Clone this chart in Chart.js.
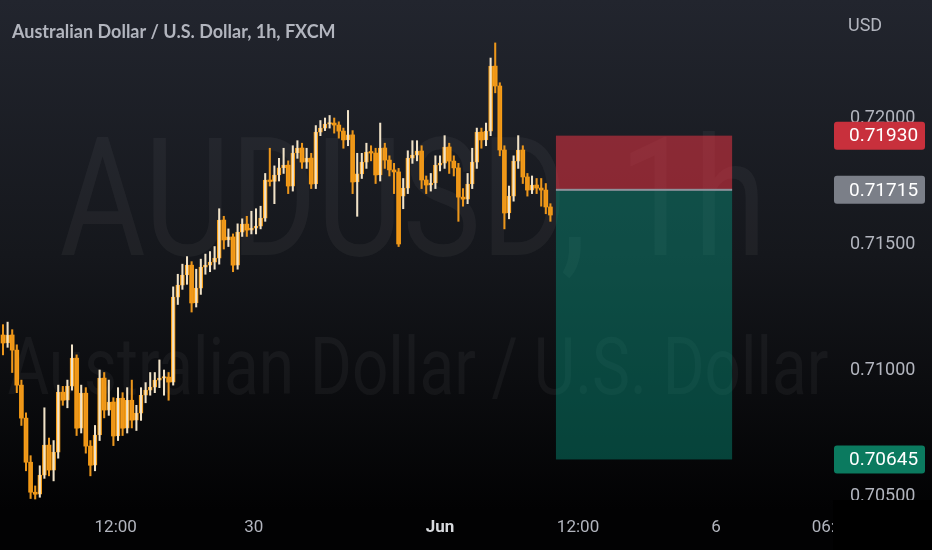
<!DOCTYPE html>
<html><head><meta charset="utf-8">
<script src="https://cdn.jsdelivr.net/npm/chart.js@4.4.1/dist/chart.umd.min.js"></script>
<style>html,body{margin:0;padding:0;background:#000;overflow:hidden}#wrap{width:932px;height:550px;position:relative}canvas{display:block}</style>
</head><body><div id="wrap"><canvas id="c" width="932" height="550"></canvas></div>
<script>
const symbolTitle = "Australian Dollar / U.S. Dollar, 1h, FXCM";
const watermarkMain = "AUDUSD, 1h";
const watermarkSub = "Australian Dollar / U.S. Dollar";
const currencyLabel = "USD";

const opens = [
 0.71139,0.71107,0.71139,0.71079,0.70940,0.70809,0.70634,0.70515,0.70507,0.70583,
 0.70702,0.70603,0.70674,0.70912,0.70880,0.70936,0.71047,0.70769,0.70908,0.70698,
 0.70622,0.70742,0.70968,0.70841,0.70873,0.70738,0.70888,0.70769,0.70880,0.70801,
 0.70829,0.70900,0.70920,0.70932,0.70960,0.70968,0.70972,0.70952,0.71289,0.71337,
 0.71377,0.71416,0.71266,0.71325,0.71408,0.71416,0.71428,0.71444,0.71595,0.71516,
 0.71528,0.71416,0.71547,0.71579,0.71555,0.71563,0.71571,0.71603,0.71754,0.71748,
 0.71774,0.71802,0.71813,0.71730,0.71861,0.71881,0.71825,0.71841,0.71738,0.71944,
 0.71960,0.71976,0.71980,0.71972,0.71948,0.71913,0.71933,0.71746,0.71778,0.71825,
 0.71865,0.71861,0.71774,0.71881,0.71833,0.71794,0.71786,0.71690,0.71722,0.71841,
 0.71853,0.71869,0.71754,0.71734,0.71742,0.71813,0.71821,0.71885,0.71829,0.71802,
 0.71686,0.71678,0.71738,0.71825,0.71944,0.71913,0.71948,0.72206,0.72127,0.71873,
 0.71623,0.71690,0.71829,0.71873,0.71766,0.71714,0.71734,0.71722,0.71714,0.71647];
const highs = [
 0.71180,0.71190,0.71160,0.71100,0.70960,0.70830,0.70660,0.70540,0.70620,0.70850,
 0.70730,0.70720,0.70940,0.70935,0.70960,0.71100,0.71060,0.70940,0.70930,0.70720,
 0.70780,0.71000,0.70990,0.70960,0.70890,0.70930,0.70910,0.70930,0.70960,0.70860,
 0.70930,0.70950,0.70990,0.70990,0.71040,0.71000,0.70990,0.71330,0.71380,0.71420,
 0.71450,0.71430,0.71400,0.71440,0.71460,0.71470,0.71490,0.71640,0.71610,0.71560,
 0.71540,0.71580,0.71600,0.71610,0.71630,0.71640,0.71650,0.71780,0.71880,0.71810,
 0.71840,0.71880,0.71830,0.71890,0.71910,0.71900,0.71880,0.71860,0.71970,0.71990,
 0.72000,0.72010,0.72000,0.71985,0.71960,0.72030,0.71950,0.71860,0.71860,0.71900,
 0.71890,0.71880,0.71980,0.71900,0.71850,0.71820,0.71800,0.71760,0.71870,0.71910,
 0.71910,0.71890,0.71770,0.71780,0.71850,0.71850,0.71930,0.71900,0.71850,0.71820,
 0.71720,0.71780,0.71880,0.71960,0.71960,0.71980,0.72238,0.72298,0.72140,0.71890,
 0.71730,0.71850,0.71930,0.71890,0.71780,0.71770,0.71760,0.71760,0.71740,0.71660];
const lows = [
 0.71060,0.71090,0.70990,0.70910,0.70780,0.70600,0.70490,0.70488,0.70495,0.70570,
 0.70580,0.70560,0.70650,0.70860,0.70850,0.70920,0.70740,0.70750,0.70670,0.70580,
 0.70600,0.70720,0.70810,0.70820,0.70700,0.70720,0.70740,0.70750,0.70770,0.70760,
 0.70800,0.70870,0.70900,0.70910,0.70930,0.70900,0.70880,0.70940,0.71260,0.71320,
 0.71340,0.71230,0.71250,0.71300,0.71380,0.71390,0.71400,0.71420,0.71480,0.71490,
 0.71390,0.71400,0.71530,0.71530,0.71540,0.71540,0.71560,0.71590,0.71730,0.71660,
 0.71750,0.71780,0.71700,0.71710,0.71840,0.71800,0.71800,0.71720,0.71720,0.71930,
 0.71950,0.71960,0.71940,0.71920,0.71880,0.71890,0.71700,0.71610,0.71760,0.71800,
 0.71830,0.71740,0.71750,0.71800,0.71770,0.71700,0.71490,0.71640,0.71700,0.71820,
 0.71830,0.71720,0.71700,0.71710,0.71720,0.71790,0.71800,0.71780,0.71770,0.71590,
 0.71650,0.71660,0.71720,0.71800,0.71880,0.71890,0.71930,0.72100,0.71850,0.71560,
 0.71600,0.71670,0.71800,0.71740,0.71690,0.71700,0.71700,0.71650,0.71620,0.71590];
const closes = [
 0.71107,0.71139,0.71079,0.70940,0.70809,0.70634,0.70515,0.70507,0.70583,0.70702,
 0.70603,0.70674,0.70912,0.70880,0.70936,0.71047,0.70769,0.70908,0.70698,0.70622,
 0.70742,0.70968,0.70841,0.70873,0.70738,0.70888,0.70769,0.70880,0.70801,0.70829,
 0.70900,0.70920,0.70932,0.70960,0.70968,0.70972,0.70952,0.71289,0.71337,0.71377,
 0.71416,0.71266,0.71325,0.71408,0.71416,0.71428,0.71444,0.71595,0.71516,0.71528,
 0.71416,0.71547,0.71579,0.71555,0.71563,0.71571,0.71603,0.71754,0.71748,0.71774,
 0.71802,0.71813,0.71730,0.71861,0.71881,0.71825,0.71841,0.71738,0.71944,0.71960,
 0.71976,0.71980,0.71972,0.71948,0.71913,0.71933,0.71746,0.71778,0.71825,0.71865,
 0.71861,0.71774,0.71881,0.71833,0.71794,0.71786,0.71500,0.71722,0.71841,0.71853,
 0.71869,0.71754,0.71734,0.71742,0.71813,0.71821,0.71885,0.71829,0.71802,0.71686,
 0.71678,0.71738,0.71825,0.71944,0.71913,0.71948,0.72206,0.72127,0.71873,0.71623,
 0.71690,0.71829,0.71873,0.71766,0.71714,0.71734,0.71722,0.71714,0.71647,0.71615];

const xTickValues = [24.5, 54.5, 95, 125, 155, 180.4];
const xTickLabels = ["12:00", "30", "Jun", "12:00", "6", "06:00"];
const yTickValues = [0.705, 0.710, 0.715, 0.720];

const positionStart = 120.2, positionEnd = 158.5;
const stopPrice = 0.71930, entryPrice = 0.71715, targetPrice = 0.70645;

const X_MIN = -0.652, X_MAX = 180.43;
const Y_MIN = 0.704762, Y_MAX = 0.724683;

const ORANGE = '#f89c14';
const wickData = highs.map((h, i) => ({x: i, y: [lows[i], h]}));
const bodyData = opens.map((o, i) => ({x: i, y: [Math.min(o, closes[i]), Math.max(o, closes[i])]}));
const isUp = opens.map((o, i) => closes[i] >= o);

const bgPlugin = {
  id: 'bg',
  beforeDraw(chart) {
    const c = chart.ctx;
    const g = c.createLinearGradient(0, 0, 0, 510);
    g.addColorStop(0, '#22252e');
    g.addColorStop(0.5, '#15171c');
    g.addColorStop(1, '#020203');
    c.save();
    c.fillStyle = g;
    c.fillRect(0, 0, chart.width, chart.height);
    c.restore();
  },
  beforeDatasetsDraw(chart) {
    const c = chart.ctx, a = chart.chartArea;
    const xs = chart.scales.x, ys = chart.scales.y;
    c.save();
    c.beginPath(); c.rect(a.left, a.top, a.right - a.left, a.bottom - a.top); c.clip();
    c.fillStyle = 'rgba(255,255,255,0.045)';
    c.textBaseline = 'alphabetic';
    c.textAlign = 'center';
    c.font = '166px Roboto';
    let w = c.measureText(watermarkMain).width;
    c.save(); c.translate(413, 255); c.scale(707 / w, 1); c.fillText(watermarkMain, 0, 0); c.restore();
    c.font = '80px Roboto';
    w = c.measureText(watermarkSub).width;
    c.save(); c.translate(418, 394); c.scale(821 / w, 1); c.fillText(watermarkSub, 0, 0); c.restore();
    const x0 = xs.getPixelForValue(positionStart), x1 = xs.getPixelForValue(positionEnd);
    const yS = ys.getPixelForValue(stopPrice), yE = ys.getPixelForValue(entryPrice), yT = ys.getPixelForValue(targetPrice);
    c.fillStyle = 'rgba(242,54,69,0.52)';
    c.fillRect(x0, yS, x1 - x0, yE - yS);
    c.fillStyle = 'rgba(8,153,129,0.42)';
    c.fillRect(x0, yE, x1 - x0, yT - yE);
    c.fillStyle = '#8d919a';
    c.fillRect(x0, yE - 1, x1 - x0, 2);
    c.restore();
  },
  afterDraw(chart) {
    const c = chart.ctx, ys = chart.scales.y;
    c.save();
    c.fillStyle = '#000';
    c.fillRect(833, 500, 99, 50);
    c.fillStyle = '#b2b5be';
    c.font = 'bold 18px Lato';
    c.textAlign = 'left';
    c.textBaseline = 'alphabetic';
    c.fillText(symbolTitle, 12, 38);
    c.font = '18px Roboto';
    c.fillText(currencyLabel, 848, 31);
    const labs = [[stopPrice, '#c8303c'], [entryPrice, '#7b7f88'], [targetPrice, '#0b7a5f']];
    c.textBaseline = 'middle';
    for (const [p, col] of labs) {
      const y = ys.getPixelForValue(p);
      c.fillStyle = col;
      c.beginPath();
      c.roundRect(834, y - 14, 91, 28, 3);
      c.fill();
      c.fillStyle = '#ffffff';
      c.font = '19px Roboto';
      c.fillText(p.toFixed(5), 849, y + 1);
    }
    c.restore();
  }
};

new Chart(document.getElementById('c'), {
  type: 'bar',
  data: {
    datasets: [
      {
        data: wickData,
        barThickness: 1.4,
        grouped: false,
        backgroundColor: isUp.map(u => u ? '#f0e2c8' : '#eb961c'),
        borderWidth: 0
      },
      {
        data: bodyData,
        barThickness: 4,
        grouped: false,
        minBarLength: 1.5,
        backgroundColor: isUp.map(u => u ? '#fbb540' : ORANGE),
        borderColor: ORANGE,
        borderWidth: isUp.map(u => u ? 1 : 0),
        borderSkipped: false
      }
    ]
  },
  options: {
    responsive: false,
    animation: false,
    layout: {padding: 0},
    plugins: {legend: {display: false}, tooltip: {enabled: false}},
    scales: {
      x: {
        type: 'linear',
        offset: false,
        min: X_MIN, max: X_MAX,
        grid: {display: false, drawTicks: false},
        border: {display: false},
        afterBuildTicks: s => { s.ticks = xTickValues.map(v => ({value: v})); },
        afterFit: s => { s.height = 48; s.paddingLeft = 0; s.paddingRight = 0; },
        ticks: {
          autoSkip: false, maxRotation: 0, minRotation: 0, padding: 16,
          callback: (v, i) => xTickLabels[i],
          color: ctx => xTickLabels[ctx.index] === 'Jun' ? '#d8dade' : '#b2b5be',
          font: ctx => ({family: 'Roboto', size: 17, weight: xTickLabels[ctx.index] === 'Jun' ? 'bold' : 'normal'})
        }
      },
      y: {
        position: 'right',
        min: Y_MIN, max: Y_MAX,
        grid: {display: false, drawTicks: false},
        border: {display: false},
        afterBuildTicks: s => { s.ticks = yTickValues.map(v => ({value: v})); },
        afterFit: s => { s.width = 99; s.paddingTop = 0; s.paddingBottom = 0; },
        ticks: {
          padding: 17,
          callback: v => Number(v).toFixed(5),
          color: '#b2b5be',
          font: {family: 'Roboto', size: 18}
        }
      }
    }
  },
  plugins: [bgPlugin]
});
</script>
</body></html>
